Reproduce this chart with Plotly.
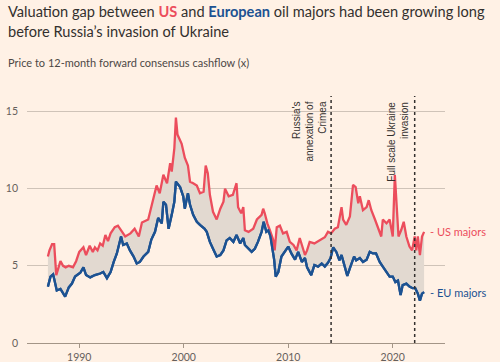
import plotly.graph_objects as go

us_years = [1987.0,1987.15,1987.4,1987.6,1987.8,1988.0,1988.2,1988.45,1988.7,1989.0,1989.4,1989.7,1990.0,1990.4,1990.65,1991.0,1991.3,1991.5,1991.75,1992.0,1992.25,1992.5,1992.75,1993.0,1993.4,1993.7,1994.1,1994.4,1994.9,1995.3,1995.7,1996.0,1996.6,1996.9,1997.4,1997.7,1998.05,1998.4,1998.7,1998.85,1999.1,1999.25,1999.4,1999.8,2000.1,2000.4,2000.6,2000.9,2001.25,2001.55,2001.9,2002.1,2002.3,2002.5,2002.8,2003.15,2003.5,2003.8,2003.95,2004.3,2004.7,2005.05,2005.2,2005.5,2005.7,2005.85,2006.2,2006.65,2007.0,2007.45,2007.6,2007.75,2008.0,2008.25,2008.55,2008.7,2008.9,2009.2,2009.5,2009.85,2010.15,2010.5,2010.8,2011.1,2011.3,2011.6,2011.8,2012.05,2012.5,2013.0,2013.5,2013.8,2014.1,2014.45,2014.75,2015.1,2015.25,2015.55,2015.9,2016.2,2016.45,2016.7,2016.85,2017.15,2017.5,2017.7,2017.95,2018.3,2018.6,2018.9,2019.05,2019.4,2019.7,2020.0,2020.2,2020.35,2020.55,2020.8,2021.05,2021.3,2021.6,2021.85,2022.1,2022.25,2022.4,2022.6,2022.8,2023.0]
us_values = [5.6,6.0,6.4,6.4,4.4,4.9,5.3,5.0,4.9,5.0,4.9,5.3,5.9,6.2,5.7,6.3,5.9,6.2,6.0,6.45,6.3,7.0,6.6,7.1,7.5,7.6,7.2,6.9,7.1,7.4,6.9,7.8,8.0,8.9,10.2,9.7,10.9,10.35,11.65,11.1,12.6,14.6,13.5,12.9,12.0,11.5,10.45,10.35,10.2,9.7,9.8,11.5,11.0,9.6,8.5,8.0,8.7,9.15,10.0,9.5,9.6,10.35,8.8,8.4,8.8,7.3,7.2,7.4,8.0,8.3,8.7,8.4,7.75,7.3,6.7,6.0,7.5,7.6,7.1,7.2,6.55,6.35,6.0,6.8,6.35,5.7,6.0,6.55,6.45,6.65,6.85,7.2,7.1,7.4,7.5,8.8,8.0,7.65,8.2,10.25,10.1,9.05,9.5,8.6,8.8,9.25,8.6,8.0,7.5,6.9,8.0,7.75,8.0,6.9,10.9,9.05,6.9,7.3,7.85,6.9,6.25,6.0,6.9,6.0,6.9,5.7,6.9,7.2]

eu_years = [1987.0,1987.25,1987.5,1987.7,1987.85,1988.2,1988.5,1988.65,1989.0,1989.3,1989.6,1990.1,1990.4,1990.65,1991.05,1991.5,1992.0,1992.3,1992.65,1993.0,1993.3,1993.6,1994.0,1994.2,1994.55,1994.85,1995.2,1995.5,1995.8,1996.15,1996.6,1996.9,1997.25,1997.55,1997.9,1998.05,1998.3,1998.55,1998.85,1999.1,1999.25,1999.65,1999.95,2000.1,2000.4,2000.6,2000.9,2001.25,2001.55,2002.0,2002.2,2002.5,2002.8,2003.15,2003.5,2003.8,2004.1,2004.4,2004.75,2005.05,2005.4,2005.7,2005.85,2006.2,2006.5,2006.8,2007.1,2007.45,2007.65,2007.9,2008.1,2008.3,2008.5,2008.65,2008.8,2009.05,2009.35,2009.7,2010.0,2010.3,2010.65,2010.95,2011.3,2011.6,2011.8,2012.2,2012.5,2012.85,2013.2,2013.5,2013.8,2014.05,2014.3,2014.6,2014.9,2015.1,2015.4,2015.65,2015.95,2016.3,2016.5,2016.85,2017.15,2017.5,2017.8,2018.1,2018.4,2018.75,2019.05,2019.4,2019.7,2020.0,2020.25,2020.5,2020.75,2020.95,2021.3,2021.6,2021.9,2022.15,2022.4,2022.6,2022.8,2023.0]
eu_values = [3.65,4.3,4.45,3.95,3.4,3.5,3.1,3.0,3.6,3.85,4.3,4.55,4.9,4.4,4.25,4.4,4.5,4.6,4.2,4.6,5.25,5.8,6.9,6.35,6.45,6.0,5.6,5.15,5.25,5.6,5.9,6.7,7.2,8.1,7.75,9.15,8.95,7.4,8.3,9.15,10.45,10.1,9.5,8.7,9.7,8.95,8.3,7.85,7.65,7.4,7.2,6.55,6.1,5.6,5.7,6.0,6.65,6.8,6.55,7.0,6.45,6.8,6.35,6.1,5.9,6.1,6.55,7.2,7.85,7.2,7.3,6.9,6.1,5.4,4.3,4.6,5.6,6.0,6.25,5.8,5.4,5.9,5.25,5.5,4.9,4.4,5.05,4.95,5.15,4.95,5.2,5.5,6.2,5.9,5.35,5.7,4.95,4.35,4.95,5.6,5.35,5.5,5.25,5.4,5.9,5.8,5.8,5.25,4.95,4.6,4.3,4.3,3.95,4.05,3.1,3.75,3.85,3.65,3.55,3.55,3.2,2.75,3.2,3.3]

event_years = [2014.1, 2022.1]
event_labels = ["Russia's<br>annexation of<br>Crimea", "Full scale Ukraine<br>invasion"]
x_ticks = [1990, 2000, 2010, 2020]
y_ticks = [0, 5, 10, 15]

RED = "#ec4d5c"
BLUE = "#1c5292"
BG = "#fff1e5"

W, H = 500, 362
ML, MR, MT, MB = 27, 55, 96, 19
PW, PH = W - ML - MR, H - MT - MB


def px_x(px):
    return (px - ML) / PW


def px_y(py):
    return (H - MB - py) / PH


fig = go.Figure()
fig.add_trace(go.Scatter(x=eu_years, y=eu_values, mode="lines",
                         line=dict(color=BLUE, width=2.3), hoverinfo="skip"))
fig.add_trace(go.Scatter(x=us_years, y=us_values, mode="lines", fill="tonexty",
                         fillcolor="#e2d9d0",
                         line=dict(color=RED, width=2.3), hoverinfo="skip"))
fig.add_trace(go.Scatter(x=eu_years, y=eu_values, mode="lines",
                         line=dict(color=BLUE, width=2.3), hoverinfo="skip"))

for xv in event_years:
    fig.add_shape(type="line", x0=xv, x1=xv, y0=0, y1=16, xref="x", yref="y",
                  line=dict(color="#33302e", width=1.5, dash="dot"))

shifts = [-2, -3]
for xv, lab, sh in zip(event_years, event_labels, shifts):
    fig.add_annotation(x=xv, y=16, xref="x", yref="y", text=lab, textangle=-90,
                       showarrow=False, xanchor="right", yanchor="top", align="right",
                       xshift=sh, yshift=-4,
                       font=dict(family="Liberation Sans Narrow, Liberation Sans, Arial", size=10, color="#33302e"))

fig.add_annotation(x=2023.35, y=us_values[-1], xref="x", yref="y", text="- US majors",
                   showarrow=False, xanchor="left", yanchor="middle",
                   font=dict(family="Lato", size=11, color=RED))
fig.add_annotation(x=2023.35, y=eu_values[-1], xref="x", yref="y", text="- EU majors",
                   showarrow=False, xanchor="left", yanchor="middle",
                   font=dict(family="Lato", size=11, color=BLUE))

title_line1 = ("Valuation gap between <b><span style='color:%s'>US</span></b> and "
               "<b><span style='color:%s'>European</span></b> oil majors had been growing long") % (RED, BLUE)
title_line2 = "before Russia’s invasion of Ukraine"
fig.add_annotation(x=px_x(6), y=px_y(11), xref="paper", yref="paper", text=title_line1,
                   showarrow=False, xanchor="left", yanchor="middle", align="left",
                   font=dict(family="Lato", size=14.6, color="#33302e"))
fig.add_annotation(x=px_x(6), y=px_y(31.5), xref="paper", yref="paper", text=title_line2,
                   showarrow=False, xanchor="left", yanchor="middle", align="left",
                   font=dict(family="Lato", size=14.6, color="#33302e"))
fig.add_annotation(x=px_x(6), y=px_y(62), xref="paper", yref="paper",
                   text="Price to 12-month forward consensus cashflow (x)",
                   showarrow=False, xanchor="left", yanchor="middle", align="left",
                   font=dict(family="Lato", size=11, color="#4d4845"))

fig.update_layout(
    width=W, height=H,
    margin=dict(l=ML, r=MR, t=MT, b=MB, autoexpand=False),
    paper_bgcolor=BG, plot_bgcolor=BG,
    showlegend=False,
    xaxis=dict(range=[1985, 2025], tickvals=x_ticks, ticktext=[str(v) for v in x_ticks],
               showgrid=False, zeroline=False, showline=True, linecolor="#a39587", linewidth=1,
               ticks="outside", ticklen=4, tickcolor="#a39587", automargin=False,
               tickfont=dict(family="Lato", size=10.5, color="#66605c")),
    yaxis=dict(range=[0, 16], tickvals=y_ticks, showgrid=True, gridcolor="#cfc3b8", gridwidth=1,
               zeroline=False, showline=False, ticks="", ticklabelstandoff=8, automargin=False,
               tickfont=dict(family="Lato", size=10.5, color="#66605c")),
)

fig.write_html("out.html")
